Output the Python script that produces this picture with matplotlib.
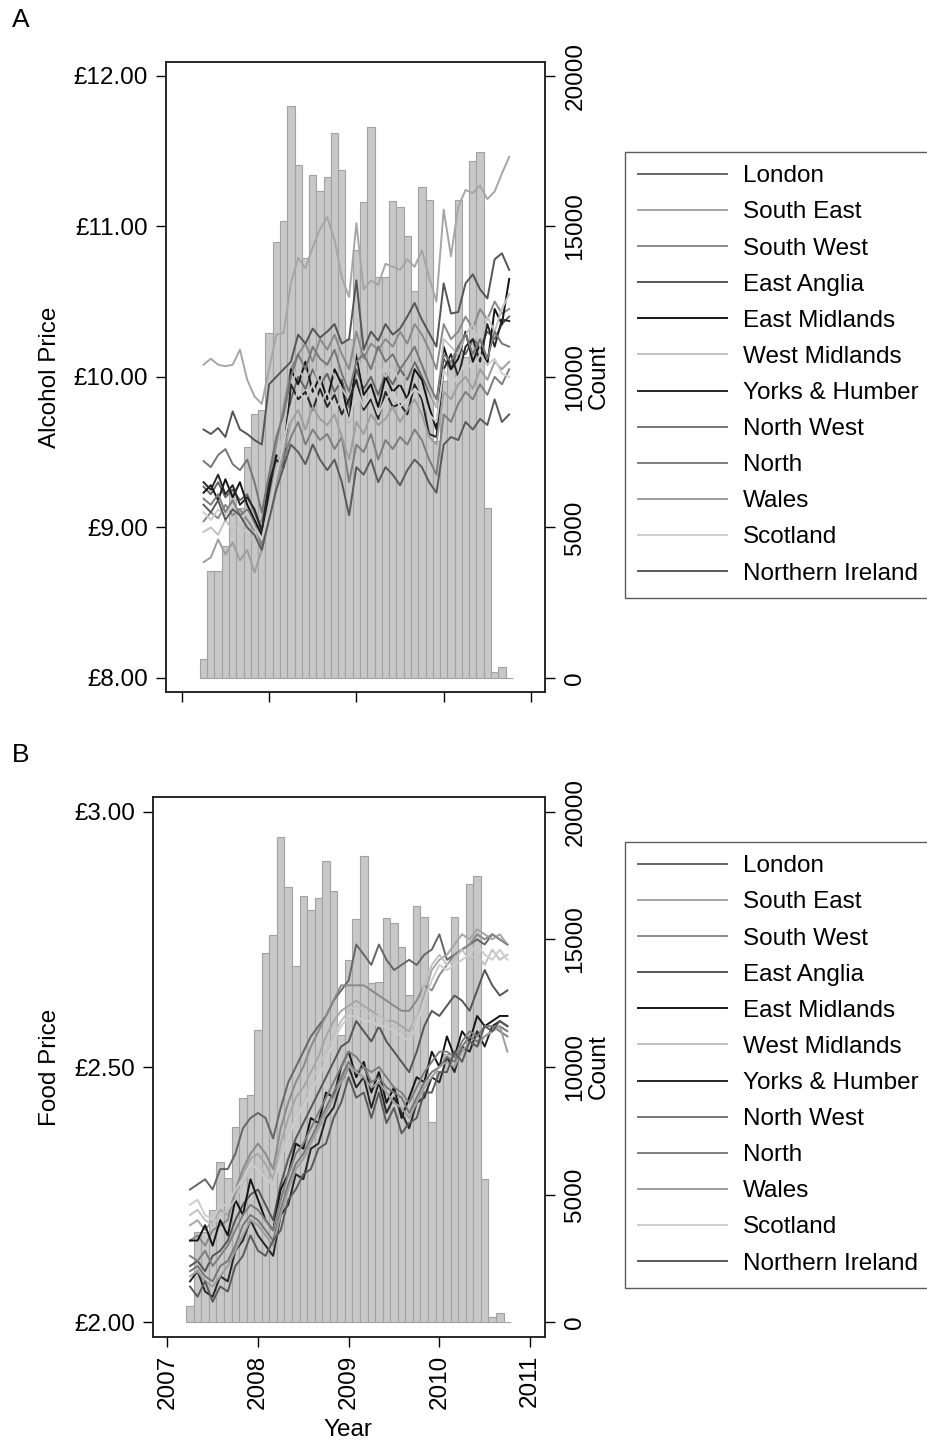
import numpy as np
import matplotlib
matplotlib.use('Agg')
import matplotlib.pyplot as plt
from matplotlib.lines import Line2D

plt.rcParams['font.family'] = ['Liberation Sans', 'DejaVu Sans']

##################################################################################
# data ###########################################################################
##################################################################################

# monthly observations, April 2007 .. October 2010
start_year = 2007
start_month = 4
n_months = 43

# number of purchases per month (same bars in both panels)
counts = [640, 3550, 3550, 4390, 6290, 5635, 7655, 8775, 8910, 11460,
          14470, 15170, 19000, 17040, 13940, 16700, 16160, 16620, 18080, 16880,
          11260, 14200, 15800, 18280, 13300, 13320, 15830, 15640, 14690, 12840,
          16290, 15860, 7860, 9850, 10500, 15860, 10670, 17160, 17470, 5630,
          210, 380, 0]

regions = ['London', 'South East', 'South West', 'East Anglia', 'East Midlands',
           'West Midlands', 'Yorks & Humber', 'North West', 'North', 'Wales',
           'Scotland', 'Northern Ireland']

# alcohol price (GBP)
alc_london = [9.27, 9.22, 9.30, 9.20, 9.25, 9.18, 9.22, 9.10, 8.98, 9.20, 9.40, 9.50, 9.85, 10.00, 9.92,
              10.05, 9.95, 10.02, 9.90, 9.98, 9.80, 10.05, 9.92, 10.00, 9.88, 10.02, 9.95, 10.05, 9.98,
              10.10, 10.00, 9.90, 9.80, 10.12, 10.05, 10.20, 10.15, 10.25, 10.20, 10.30, 10.25, 10.35, 10.40]
alc_south_east = [10.08, 10.12, 10.08, 10.07, 10.08, 10.18, 9.98, 9.87, 9.82, 10.05, 10.28, 10.29, 10.62,
                  10.79, 10.72, 10.86, 10.98, 11.06, 10.91, 10.66, 10.53, 11.02, 10.58, 10.64, 10.61, 10.75,
                  10.73, 10.71, 10.78, 10.73, 10.84, 10.66, 10.50, 11.11, 10.80, 11.13, 11.24, 11.22, 11.27,
                  11.18, 11.23, 11.35, 11.46]
alc_south_west = [9.04, 9.10, 9.06, 9.15, 9.08, 9.12, 9.05, 8.98, 9.05, 9.30, 9.55, 9.80, 10.05, 10.15,
                  10.22, 10.10, 10.25, 10.18, 10.28, 10.15, 10.05, 10.30, 10.12, 10.22, 10.18, 10.25, 10.20,
                  10.30, 10.22, 10.35, 10.28, 10.18, 10.05, 10.35, 10.25, 10.30, 10.40, 10.32, 10.45, 10.38,
                  10.50, 10.42, 10.45]
alc_east_anglia = [9.65, 9.62, 9.66, 9.60, 9.77, 9.65, 9.62, 9.58, 9.55, 9.95, 10.00, 10.05, 10.10, 10.28,
                   10.22, 10.32, 10.26, 10.30, 10.35, 10.22, 10.25, 10.64, 10.18, 10.30, 10.24, 10.35, 10.28,
                   10.32, 10.40, 10.49, 10.38, 10.29, 10.20, 10.62, 10.42, 10.43, 10.62, 10.68, 10.58, 10.52,
                   10.78, 10.82, 10.71]
alc_east_midlands = [9.23, 9.28, 9.18, 9.32, 9.20, 9.30, 9.15, 9.05, 8.95, 9.25, 9.48, 9.42, 10.05, 9.95,
                     10.10, 9.90, 10.00, 9.85, 10.05, 9.95, 9.70, 10.15, 9.88, 9.95, 9.80, 10.00, 9.90, 9.95,
                     9.85, 10.05, 9.98, 9.80, 9.65, 10.20, 10.05, 10.12, 10.30, 10.10, 10.22, 10.08, 10.45,
                     10.35, 10.65]
alc_west_midlands = [8.97, 9.00, 8.95, 9.05, 8.98, 9.02, 8.95, 8.90, 8.92, 9.15, 9.40, 9.65, 9.95, 10.05,
                     9.98, 10.08, 9.95, 10.10, 10.00, 9.92, 9.85, 10.20, 9.95, 10.05, 10.10, 10.00, 10.08,
                     9.95, 10.02, 10.12, 10.05, 9.92, 9.80, 10.25, 10.20, 10.15, 10.28, 10.35, 10.20, 10.40,
                     10.30, 10.45, 10.55]
alc_yorks = [9.30, 9.25, 9.35, 9.22, 9.28, 9.15, 9.20, 9.12, 8.98, 9.30, 9.45, 9.40, 9.95, 9.85, 9.90, 9.78,
             9.92, 9.80, 9.88, 9.75, 9.85, 9.98, 9.78, 9.85, 9.72, 9.90, 9.80, 9.82, 9.75, 9.95, 9.85, 9.62,
             9.60, 10.05, 10.15, 10.00, 10.20, 10.25, 10.10, 10.35, 10.20, 10.38, 10.37]
alc_north_west = [9.44, 9.40, 9.48, 9.52, 9.42, 9.38, 9.45, 9.30, 9.10, 9.35, 9.60, 9.75, 10.00, 10.15,
                  10.05, 10.20, 10.12, 10.08, 10.18, 10.02, 9.90, 10.10, 10.15, 10.05, 10.20, 10.10, 10.15,
                  10.05, 10.12, 10.20, 10.08, 9.95, 9.85, 10.15, 10.10, 10.20, 10.28, 10.15, 10.25, 10.12,
                  10.30, 10.22, 10.20]
alc_north = [9.19, 9.15, 9.22, 9.10, 9.18, 9.08, 9.12, 9.02, 8.88, 9.10, 9.30, 9.45, 9.60, 9.70, 9.55, 9.65,
             9.58, 9.62, 9.52, 9.60, 9.30, 9.55, 9.50, 9.62, 9.45, 9.58, 9.52, 9.60, 9.55, 9.65, 9.58, 9.45,
             9.35, 9.75, 9.70, 9.82, 9.90, 9.85, 9.95, 9.88, 10.00, 9.95, 10.05]
alc_wales = [8.77, 8.80, 8.92, 8.82, 8.90, 8.78, 8.85, 8.70, 8.85, 9.05, 9.30, 9.50, 9.70, 9.78, 9.65, 9.80,
             9.72, 9.68, 9.75, 9.60, 9.45, 9.70, 9.62, 9.75, 9.68, 9.72, 9.80, 9.70, 9.78, 9.85, 9.75, 9.60,
             9.55, 9.90, 9.85, 9.95, 10.00, 9.92, 10.05, 9.98, 10.10, 10.05, 10.10]
alc_scotland = [9.10, 9.05, 9.12, 9.08, 9.15, 9.05, 9.10, 9.00, 8.92, 9.10, 9.35, 9.55, 9.80, 9.90, 9.85,
                9.95, 9.82, 9.90, 9.78, 9.85, 9.70, 9.92, 9.80, 9.88, 9.75, 9.85, 9.90, 9.80, 9.85, 9.92,
                9.88, 9.75, 9.70, 10.05, 9.95, 10.00, 10.10, 10.05, 10.15, 10.08, 10.12, 10.02, 10.00]
alc_n_ireland = [9.15, 9.10, 9.18, 9.05, 9.12, 9.08, 9.00, 8.95, 8.85, 9.05, 9.25, 9.40, 9.55, 9.50, 9.42,
                 9.55, 9.45, 9.38, 9.45, 9.30, 9.08, 9.40, 9.35, 9.45, 9.30, 9.40, 9.35, 9.28, 9.38, 9.45,
                 9.40, 9.30, 9.23, 9.55, 9.60, 9.58, 9.70, 9.65, 9.72, 9.68, 9.85, 9.70, 9.75]

# food price (GBP)
food_london = [2.26, 2.27, 2.28, 2.26, 2.30, 2.30, 2.33, 2.38, 2.40, 2.41, 2.40, 2.36, 2.42, 2.47, 2.50,
               2.53, 2.56, 2.58, 2.60, 2.63, 2.65, 2.67, 2.74, 2.72, 2.70, 2.74, 2.71, 2.69, 2.70, 2.71,
               2.70, 2.72, 2.73, 2.76, 2.71, 2.72, 2.73, 2.74, 2.75, 2.74, 2.76, 2.75, 2.74]
food_south_east = [2.19, 2.20, 2.18, 2.20, 2.22, 2.21, 2.25, 2.29, 2.32, 2.33, 2.31, 2.28, 2.35, 2.40, 2.44,
                   2.46, 2.49, 2.52, 2.56, 2.59, 2.61, 2.62, 2.63, 2.62, 2.61, 2.60, 2.59, 2.59, 2.58, 2.57,
                   2.60, 2.64, 2.69, 2.71, 2.72, 2.74, 2.76, 2.75, 2.77, 2.76, 2.75, 2.76, 2.74]
food_south_west = [2.16, 2.17, 2.15, 2.18, 2.19, 2.20, 2.26, 2.30, 2.33, 2.35, 2.33, 2.30, 2.38, 2.43, 2.47,
                   2.50, 2.54, 2.57, 2.60, 2.63, 2.66, 2.66, 2.66, 2.66, 2.65, 2.64, 2.63, 2.62, 2.61, 2.61,
                   2.63, 2.66, 2.65, 2.68, 2.70, 2.72, 2.73, 2.74, 2.76, 2.75, 2.76, 2.75, 2.74]
food_east_anglia = [2.11, 2.12, 2.10, 2.13, 2.14, 2.16, 2.20, 2.23, 2.25, 2.26, 2.23, 2.20, 2.27, 2.32, 2.36,
                    2.39, 2.42, 2.45, 2.48, 2.51, 2.54, 2.55, 2.59, 2.57, 2.55, 2.58, 2.55, 2.53, 2.51, 2.49,
                    2.53, 2.58, 2.61, 2.60, 2.62, 2.64, 2.63, 2.61, 2.65, 2.69, 2.66, 2.64, 2.65]
food_east_midlands = [2.16, 2.16, 2.19, 2.15, 2.20, 2.17, 2.24, 2.21, 2.28, 2.24, 2.20, 2.18, 2.26, 2.29,
                      2.35, 2.34, 2.40, 2.39, 2.45, 2.44, 2.50, 2.53, 2.48, 2.51, 2.45, 2.49, 2.43, 2.46,
                      2.40, 2.44, 2.48, 2.47, 2.53, 2.50, 2.56, 2.52, 2.57, 2.55, 2.60, 2.58, 2.59, 2.60, 2.60]
food_west_midlands = [2.21, 2.22, 2.20, 2.19, 2.21, 2.22, 2.24, 2.27, 2.30, 2.31, 2.29, 2.27, 2.33, 2.37,
                      2.40, 2.43, 2.47, 2.50, 2.53, 2.56, 2.59, 2.61, 2.62, 2.61, 2.60, 2.60, 2.59, 2.58,
                      2.57, 2.56, 2.60, 2.66, 2.70, 2.72, 2.70, 2.71, 2.73, 2.71, 2.72, 2.70, 2.73, 2.71, 2.72]
food_yorks = [2.08, 2.10, 2.06, 2.05, 2.09, 2.08, 2.14, 2.16, 2.20, 2.17, 2.15, 2.13, 2.21, 2.23, 2.29, 2.28,
              2.34, 2.35, 2.40, 2.42, 2.47, 2.50, 2.46, 2.48, 2.42, 2.47, 2.41, 2.44, 2.41, 2.38, 2.43, 2.44,
              2.48, 2.47, 2.52, 2.49, 2.54, 2.53, 2.57, 2.54, 2.58, 2.59, 2.58]
food_north_west = [2.10, 2.11, 2.09, 2.08, 2.11, 2.12, 2.15, 2.19, 2.21, 2.20, 2.18, 2.16, 2.22, 2.27, 2.31,
                   2.33, 2.36, 2.39, 2.42, 2.45, 2.48, 2.51, 2.49, 2.50, 2.47, 2.48, 2.46, 2.45, 2.44, 2.41,
                   2.44, 2.47, 2.49, 2.50, 2.52, 2.51, 2.54, 2.56, 2.55, 2.56, 2.57, 2.58, 2.57]
food_north = [2.13, 2.12, 2.14, 2.11, 2.13, 2.15, 2.18, 2.21, 2.23, 2.22, 2.20, 2.18, 2.24, 2.29, 2.33, 2.35,
              2.38, 2.41, 2.44, 2.47, 2.50, 2.53, 2.52, 2.50, 2.49, 2.50, 2.48, 2.46, 2.45, 2.43, 2.46, 2.49,
              2.51, 2.53, 2.53, 2.52, 2.55, 2.57, 2.56, 2.58, 2.58, 2.57, 2.56]
food_wales = [2.09, 2.10, 2.08, 2.07, 2.09, 2.11, 2.14, 2.17, 2.20, 2.19, 2.17, 2.15, 2.21, 2.26, 2.30, 2.32,
              2.35, 2.38, 2.41, 2.44, 2.47, 2.50, 2.49, 2.48, 2.46, 2.47, 2.45, 2.43, 2.42, 2.40, 2.43, 2.46,
              2.48, 2.50, 2.51, 2.50, 2.53, 2.55, 2.54, 2.56, 2.57, 2.58, 2.53]
food_scotland = [2.23, 2.24, 2.21, 2.20, 2.23, 2.23, 2.26, 2.28, 2.31, 2.30, 2.28, 2.27, 2.32, 2.36, 2.40,
                 2.42, 2.45, 2.48, 2.51, 2.55, 2.58, 2.60, 2.60, 2.59, 2.59, 2.58, 2.58, 2.57, 2.56, 2.55,
                 2.58, 2.63, 2.67, 2.70, 2.69, 2.70, 2.71, 2.72, 2.74, 2.72, 2.71, 2.73, 2.71]
food_n_ireland = [2.07, 2.05, 2.08, 2.04, 2.07, 2.06, 2.11, 2.13, 2.17, 2.14, 2.13, 2.16, 2.18, 2.24, 2.26,
                  2.29, 2.30, 2.34, 2.35, 2.40, 2.43, 2.48, 2.44, 2.45, 2.40, 2.45, 2.39, 2.42, 2.37, 2.39,
                  2.40, 2.45, 2.45, 2.49, 2.49, 2.53, 2.51, 2.55, 2.54, 2.58, 2.57, 2.59, 2.58]

alcohol = [alc_london, alc_south_east, alc_south_west, alc_east_anglia, alc_east_midlands,
           alc_west_midlands, alc_yorks, alc_north_west, alc_north, alc_wales, alc_scotland, alc_n_ireland]
food = [food_london, food_south_east, food_south_west, food_east_anglia, food_east_midlands,
        food_west_midlands, food_yorks, food_north_west, food_north, food_wales, food_scotland, food_n_ireland]

# grey shades used per region
line_colors = ['#666666', '#a6a6a6', '#8a8a8a', '#555555', '#151515', '#c2c2c2',
               '#262626', '#777777', '#7e7e7e', '#9e9e9e', '#cdcdcd', '#5a5a5a']

##################################################################################
# plot ###########################################################################
##################################################################################

FS = 17.5
W, H = 927, 1441
months = start_year + (start_month - 1) / 12 + np.arange(n_months) / 12


def px(x0, y0, x1, y1):
    # pixel box (left, top, right, bottom) -> figure fraction rect
    return [x0 / W, 1 - y1 / H, (x1 - x0) / W, (y1 - y0) / H]


def draw_panel(fig, rect, xlim, ylim, base, per_count, prices, yticks, show_years):
    ax = fig.add_axes(rect)
    ax2 = ax.twinx()

    ax2.bar(months, counts, width=1 / 12, color='#c8c8c8', edgecolor='#a2a2a2', linewidth=0.8)
    ax2.set_ylim((ylim[0] - base) * per_count, (ylim[1] - base) * per_count)
    ax2.set_yticks([0, 5000, 10000, 15000, 20000])
    ax2.tick_params(axis='y', direction='out', length=7, width=1, labelsize=FS, pad=7,
                    labelrotation=90)
    for lab in ax2.get_yticklabels():
        lab.set_va('center')

    for vals, col in zip(prices, line_colors):
        ax.plot(months, vals, color=col, lw=1.4)

    ax.set_zorder(ax2.get_zorder() + 1)
    ax.patch.set_visible(False)
    ax.set_xlim(*xlim)
    ax.set_ylim(*ylim)
    ax.set_yticks(yticks)
    ax.set_yticklabels(['£{:.2f}'.format(t) for t in yticks])
    ax.set_xticks([2007, 2008, 2009, 2010, 2011])
    if show_years:
        ax.set_xticklabels(['2007', '2008', '2009', '2010', '2011'], rotation=90)
    else:
        ax.set_xticklabels([])
    ax.tick_params(axis='both', direction='out', length=7, width=1, labelsize=FS, pad=6)

    for a in (ax, ax2):
        for s in a.spines.values():
            s.set_linewidth(1.1)
            s.set_color('#222222')
    return ax


def add_legend(fig, top_px):
    handles = [Line2D([0], [0], color=c, lw=1.4) for c in line_colors]
    leg = fig.legend(handles, regions, loc='upper left', bbox_to_anchor=(625 / W, 1 - top_px / H),
                     bbox_transform=fig.transFigure, fontsize=FS, frameon=True, fancybox=False,
                     handlelength=3.65, handletextpad=0.65, labelspacing=0.58, borderpad=0.55,
                     borderaxespad=0)
    leg.get_frame().set_edgecolor('#333333')
    leg.get_frame().set_linewidth(1.0)


fig = plt.figure(figsize=(W / 100, H / 100), dpi=100)

draw_panel(fig, px(166, 62, 545, 692), (2006.82, 2011.16), (7.907, 12.09), 8, 5000,
           alcohol, [8, 9, 10, 11, 12], False)
draw_panel(fig, px(153, 797, 545, 1337), (2006.842, 2011.165), (1.971, 3.029), 2, 20000,
           food, [2.0, 2.5, 3.0], True)

add_legend(fig, 152)
add_legend(fig, 842)

fig.text(12 / W, 1 - 20 / H, 'A', fontsize=19, ha='left', va='center')
fig.text(12 / W, 1 - 755 / H, 'B', fontsize=19, ha='left', va='center')
fig.text(50 / W, 1 - 377 / H, 'Alcohol Price', fontsize=FS, rotation=90, ha='center', va='center')
fig.text(50 / W, 1 - 1067 / H, 'Food Price', fontsize=FS, rotation=90, ha='center', va='center')
fig.text(599 / W, 1 - 377 / H, 'Count', fontsize=FS, rotation=90, ha='center', va='center')
fig.text(599 / W, 1 - 1067 / H, 'Count', fontsize=FS, rotation=90, ha='center', va='center')
fig.text(348 / W, 1 - 1430 / H, 'Year', fontsize=FS, ha='center', va='center')

plt.savefig('out.png', dpi=100)
